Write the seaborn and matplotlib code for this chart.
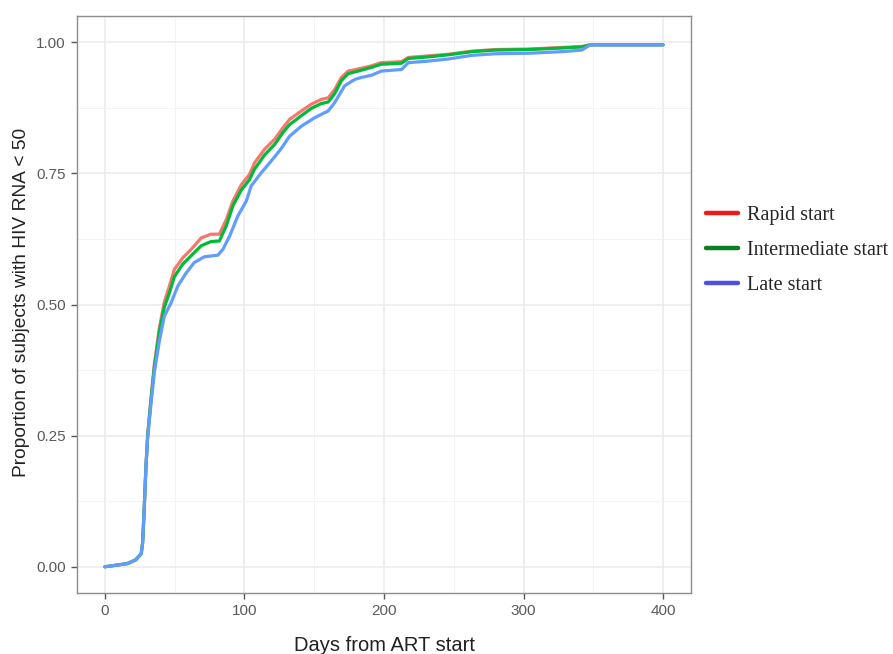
import numpy as np
import pandas as pd
import matplotlib
matplotlib.use("Agg")
import matplotlib.pyplot as plt
from matplotlib.lines import Line2D
from matplotlib.ticker import MultipleLocator
import seaborn as sns

groups = ["Rapid start", "Intermediate start", "Late start"]

rapid_days = [0, 16, 22, 26, 27, 28, 29.4, 30.6, 33, 35.4, 39, 42.6, 46.2, 49.8, 55.8, 61.8, 69, 76, 82, 87,
              91.7, 97.7, 103.6, 107.2, 114.4, 121.6, 127.6, 132.4, 140.8, 148, 155, 160, 164.7, 169.5, 174.3,
              181.5, 191, 198, 212.6, 217.4, 231.7, 246, 263, 279.6, 303.5, 327.5, 341.8, 347.8, 400]
rapid_prop = [0, 0.006, 0.013, 0.025, 0.045, 0.10, 0.19, 0.25, 0.32, 0.385, 0.455, 0.505, 0.535, 0.567, 0.589,
              0.605, 0.627, 0.634, 0.634, 0.662, 0.697, 0.728, 0.748, 0.77, 0.796, 0.815, 0.837, 0.853, 0.869,
              0.882, 0.891, 0.894, 0.91, 0.933, 0.945, 0.949, 0.955, 0.961, 0.963, 0.971, 0.974, 0.977, 0.983,
              0.986, 0.987, 0.99, 0.992, 0.995, 0.995]

inter_days = rapid_days
inter_prop = [0, 0.006, 0.013, 0.025, 0.045, 0.10, 0.19, 0.248, 0.318, 0.38, 0.448, 0.495, 0.522, 0.553, 0.577,
              0.593, 0.612, 0.62, 0.621, 0.65, 0.688, 0.718, 0.738, 0.758, 0.785, 0.805, 0.828, 0.843, 0.86,
              0.874, 0.883, 0.886, 0.902, 0.927, 0.94, 0.945, 0.952, 0.958, 0.96, 0.969, 0.972, 0.976, 0.982,
              0.985, 0.986, 0.989, 0.991, 0.995, 0.995]

late_days = [0, 16, 22, 26, 27, 28, 29.4, 30.6, 33, 35.4, 39, 42.6, 47.4, 52.2, 58.2, 64, 71.3, 81, 84.5, 89.3,
             95.3, 101.3, 104.8, 112, 119, 126, 132.4, 140.8, 150.3, 160, 164.7, 171.8, 179, 184, 191, 198,
             212.6, 217.4, 231.7, 246, 263, 279.6, 303.5, 327.5, 341.8, 347.8, 400]
late_prop = [0, 0.006, 0.013, 0.025, 0.045, 0.10, 0.19, 0.245, 0.31, 0.37, 0.43, 0.478, 0.503, 0.535, 0.56, 0.58,
             0.591, 0.594, 0.605, 0.63, 0.669, 0.697, 0.726, 0.751, 0.773, 0.796, 0.821, 0.84, 0.856, 0.869,
             0.885, 0.917, 0.929, 0.933, 0.937, 0.945, 0.948, 0.961, 0.964, 0.968, 0.975, 0.978, 0.979, 0.982,
             0.985, 0.995, 0.995]

x_ticks = [0, 100, 200, 300, 400]
y_ticks = [0.00, 0.25, 0.50, 0.75, 1.00]
y_tick_labels = ["0.00", "0.25", "0.50", "0.75", "1.00"]

line_colors = ["#F8766D", "#00BA38", "#619CFF"]
legend_colors = ["#F01818", "#0A7E22", "#5050DE"]

frames = []
for g, d, p in zip(groups, [rapid_days, inter_days, late_days], [rapid_prop, inter_prop, late_prop]):
    frames.append(pd.DataFrame({"day": d, "prop": p, "group": g}))
df = pd.concat(frames, ignore_index=True)

sns.set_theme(style="white")
plt.rcParams["font.family"] = ["Liberation Sans", "DejaVu Sans"]

fig = plt.figure(figsize=(8.93, 6.54), dpi=100)
ax = fig.add_axes([77 / 893, 1 - 593 / 654, (691 - 77) / 893, (593 - 16) / 654])

sns.lineplot(data=df, x="day", y="prop", hue="group", hue_order=groups,
             palette=dict(zip(groups, line_colors)), estimator=None, sort=False,
             linewidth=2.3, ax=ax, legend=False)

ax.set_xlim(-20, 420)
ax.set_ylim(-0.05, 1.05)
ax.set_xticks(x_ticks)
ax.set_yticks(y_ticks)
ax.set_yticklabels(y_tick_labels)
ax.xaxis.set_minor_locator(MultipleLocator(50))
ax.yaxis.set_minor_locator(MultipleLocator(0.125))
ax.grid(which="major", color="#EBEBEB", linewidth=1.1)
ax.grid(which="minor", color="#F3F3F3", linewidth=0.7)
ax.set_axisbelow(True)
for s in ax.spines.values():
    s.set_color("#8C8C8C")
    s.set_linewidth(1.0)
ax.tick_params(which="major", length=4, width=1.0, color="#555555", labelcolor="#5A5A5A",
               labelsize=11, pad=4, bottom=True, left=True)
ax.tick_params(which="minor", length=0)
ax.set_xlabel("Days from ART start", fontsize=14.5, color="#222222", labelpad=13)
ax.set_ylabel("")
fig.text(22 / 893, 1 - 302 / 654, "Proportion of subjects with HIV RNA < 50", rotation=90,
         ha="center", va="center", fontsize=13.8, color="#222222")

handles = [Line2D([0], [0], color=c, linewidth=3.2) for c in legend_colors]
fig.legend(handles, groups, loc="center left", bbox_to_anchor=(706 / 893, 1 - 250.5 / 654),
           frameon=False, borderaxespad=0, borderpad=0, handlelength=1.6, handletextpad=0.45,
           labelspacing=0.8, prop={"family": ["Liberation Serif"], "size": 14.5})

fig.savefig("out.png", dpi=100)
